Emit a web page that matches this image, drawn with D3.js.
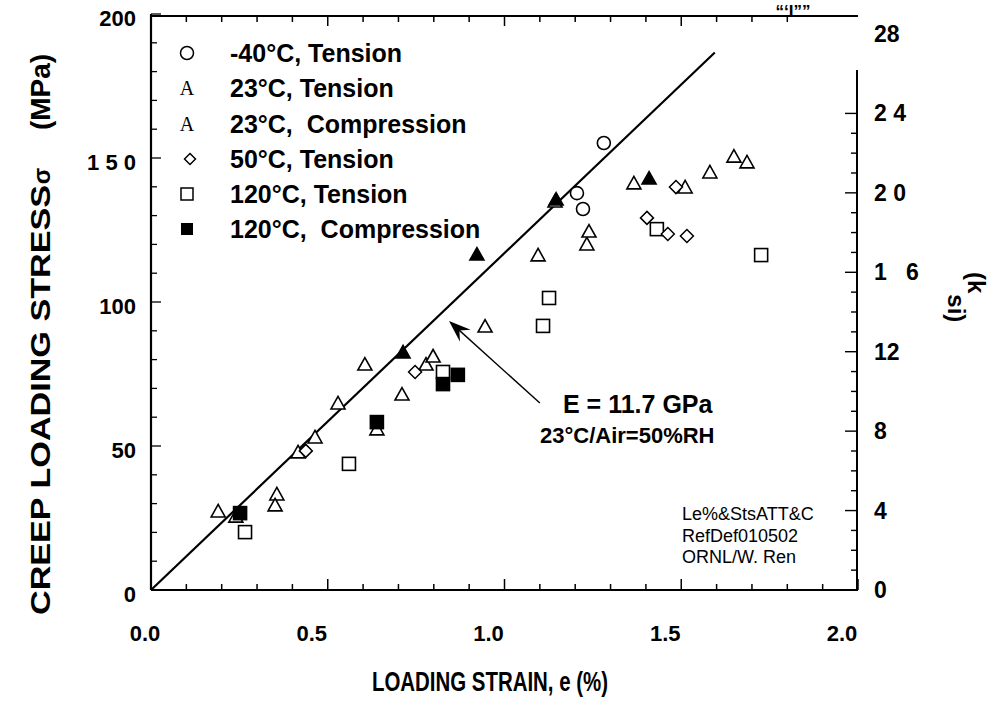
<!DOCTYPE html>
<html>
<head>
<meta charset="utf-8">
<script src="https://cdn.jsdelivr.net/npm/d3@7"></script>
<style>
  body { margin: 0; background: #fff; }
  svg { display: block; }
  text { font-family: "Liberation Sans", Arial, sans-serif; fill: #000; }
</style>
</head>
<body>
<div id="chart"></div>
<script>
// data: strain (%) and stress (MPa)
var m40TensionStrain = [1.281, 1.205, 1.222];
var m40TensionStress = [155.2, 137.8, 132.3];

var t23TensionStrain = [0.190, 0.240, 0.356, 0.351, 0.416, 0.464, 0.529, 0.605, 0.639, 0.710, 0.778, 0.798, 0.945, 1.095, 1.143, 1.233, 1.239, 1.366, 1.511, 1.581, 1.649, 1.686];
var t23TensionStress = [27.1, 25.3, 33.0, 29.2, 47.6, 52.8, 64.6, 78.1, 55.6, 67.7, 78.1, 80.9, 91.3, 116.0, 134.7, 119.8, 124.3, 141.0, 139.6, 144.8, 150.3, 148.3];

var t23CompStrain = [0.713, 0.922, 1.146, 1.409];
var t23CompStress = [82.3, 116.3, 135.4, 142.7];

var t50TensionStrain = [0.438, 0.747, 1.403, 1.462, 1.516, 1.485];
var t50TensionStress = [48.3, 75.7, 129.2, 123.6, 122.9, 139.9];

var t120TensionStrain = [0.266, 0.560, 0.826, 1.109, 1.126, 1.431, 1.726];
var t120TensionStress = [20.1, 43.8, 75.7, 91.7, 101.4, 125.3, 116.3];

var t120CompStrain = [0.252, 0.639, 0.826, 0.868];
var t120CompStress = [26.7, 58.3, 71.5, 74.7];

var legendLabels = ["-40°C, Tension", "23°C, Tension", "23°C,  Compression", "50°C, Tension", "120°C, Tension", "120°C,  Compression"];
var xTickValues = [0, 0.5, 1.0, 1.5, 2.0];
var xTickLabels = ["0.0", "0.5", "1.0", "1.5", "2.0"];
var yTickValues = [0, 50, 100, 150, 200];
var yTickLabels = ["0", "50", "100", "1 5 0", "200"];
var ksiTickValues = [0, 4, 8, 12, 16, 20, 24, 28];
var ksiTickLabels = ["0", "4", "8", "12", "1   6", "2 0", "2 4", "28"];
var noteLines = ["Le%&StsATT&C", "RefDef010502", "ORNL/W. Ren"];

var modulus = 117;      // MPa per % strain (E = 11.7 GPa)
var lineEndStrain = 1.595;
var MPA_PER_KSI = 6.895;

function pairs(xs, ys) {
  var out = [];
  for (var i = 0; i < xs.length; i++) out.push({ e: xs[i], s: ys[i] });
  return out;
}

var width = 994, height = 710;
var svg = d3.select("#chart").append("svg")
  .attr("width", width).attr("height", height);

var x = d3.scaleLinear().domain([0, 2]).range([151, 858]);
var y = d3.scaleLinear().domain([0, 200]).range([590, 14]);
var yk = d3.scaleLinear().domain([0, 200 / MPA_PER_KSI]).range([590, 14]);

// frame: left, bottom, top and (partly) right
svg.append("line").attr("x1", x(0)).attr("x2", x(0)).attr("y1", y(200)).attr("y2", y(0))
  .attr("stroke", "#000").attr("stroke-width", 2.2);
svg.append("line").attr("x1", x(0)).attr("x2", x(2)).attr("y1", y(0)).attr("y2", y(0))
  .attr("stroke", "#000").attr("stroke-width", 2.2);
svg.append("line").attr("x1", x(0)).attr("x2", x(2)).attr("y1", y(200) + 2).attr("y2", y(200) + 2)
  .attr("stroke", "#000").attr("stroke-width", 2);
svg.append("line").attr("x1", x(2) - 1).attr("x2", x(2) - 1).attr("y1", 70).attr("y2", y(0))
  .attr("stroke", "#000").attr("stroke-width", 2);

// bottom ticks (inward)
var xt = d3.range(0, 2.01, 0.1);
svg.append("g").selectAll("line").data(xt).enter().append("line")
  .attr("x1", function(d) { return x(d); }).attr("x2", function(d) { return x(d); })
  .attr("y1", y(0)).attr("y2", function(d, i) { return y(0) - (i % 5 == 0 ? 11 : 6); })
  .attr("stroke", "#000").attr("stroke-width", 1.5);
// top ticks (inward)
svg.append("g").selectAll("line").data(xt.slice(1, 19)).enter().append("line")
  .attr("x1", function(d) { return x(d); }).attr("x2", function(d) { return x(d); })
  .attr("y1", y(200) + 2).attr("y2", function(d, i) { return y(200) + 2 + ((i + 1) % 5 == 0 ? 10 : 6); })
  .attr("stroke", "#000").attr("stroke-width", 1.5);

// left ticks (inward)
var yt = d3.range(0, 201, 10);
svg.append("g").selectAll("line").data(yt).enter().append("line")
  .attr("x1", x(0)).attr("x2", function(d) { return x(0) + (d % 50 == 0 ? 10 : 6); })
  .attr("y1", function(d) { return y(d); }).attr("y2", function(d) { return y(d); })
  .attr("stroke", "#000").attr("stroke-width", 1.3);

// right ticks, ksi (inward)
var kt = d3.range(1, 25, 1);
svg.append("g").selectAll("line").data(kt).enter().append("line")
  .attr("x1", x(2) - 1).attr("x2", function(d) { return x(2) - 1 - (d % 4 == 0 ? 12 : 6); })
  .attr("y1", function(d) { return yk(d); }).attr("y2", function(d) { return yk(d); })
  .attr("stroke", "#000").attr("stroke-width", 1.4);

// tick labels
svg.append("g").selectAll("text").data(xTickValues).enter().append("text")
  .attr("x", function(d) { return x(d) - (d == 0 ? 6 : 16); })
  .attr("y", 641)
  .attr("text-anchor", "middle")
  .style("font-size", "22px").style("font-weight", "bold")
  .text(function(d, i) { return xTickLabels[i]; });

svg.append("g").selectAll("text").data(yTickValues).enter().append("text")
  .attr("x", 136)
  .attr("y", function(d) { return y(d) + 12; })
  .attr("text-anchor", "end")
  .attr("xml:space", "preserve")
  .style("white-space", "pre")
  .style("font-size", "22px").style("font-weight", "bold")
  .text(function(d, i) { return yTickLabels[i]; });

svg.append("g").selectAll("text").data(ksiTickValues).enter().append("text")
  .attr("x", 874)
  .attr("y", function(d) { return yk(d) + 8; })
  .attr("xml:space", "preserve")
  .style("white-space", "pre")
  .style("font-size", "23px").style("font-weight", "bold")
  .text(function(d, i) { return ksiTickLabels[i]; });

// axis titles
svg.append("text")
  .attr("transform", "translate(50," + 400 + ") rotate(-90)")
  .attr("text-anchor", "middle")
  .attr("textLength", 430).attr("lengthAdjust", "spacingAndGlyphs")
  .style("font-size", "27px").style("font-weight", "bold")
  .text("CREEP LOADING STRESS");
svg.append("text")
  .attr("transform", "translate(50,176) rotate(-90)")
  .attr("text-anchor", "middle")
  .style("font-size", "24px").style("font-weight", "bold")
  .text("σ");
svg.append("text")
  .attr("transform", "translate(50,92) rotate(-90)")
  .attr("text-anchor", "middle")
  .attr("textLength", 76).attr("lengthAdjust", "spacingAndGlyphs")
  .style("font-size", "27px").style("font-weight", "bold")
  .text("(MPa)");

svg.append("text")
  .attr("x", 490).attr("y", 691)
  .attr("text-anchor", "middle")
  .attr("textLength", 236).attr("lengthAdjust", "spacingAndGlyphs")
  .style("font-size", "27px").style("font-weight", "bold")
  .text("LOADING STRAIN, e (%)");

var ksiTitle = svg.append("text")
  .attr("transform", "translate(968,272) rotate(90)")
  .style("font-size", "24px").style("font-weight", "bold");
ksiTitle.append("tspan").text("(k");
ksiTitle.append("tspan").attr("dy", 20).attr("dx", 1).text("si)");

// scan artefact at the top edge
svg.append("text").attr("x", 793).attr("y", 17).attr("text-anchor", "middle")
  .style("font-size", "17px").style("font-weight", "bold").text("“‘I””");

// modulus line
svg.append("line")
  .attr("x1", x(0)).attr("y1", y(0))
  .attr("x2", x(lineEndStrain)).attr("y2", y(modulus * lineEndStrain))
  .attr("stroke", "#000").attr("stroke-width", 2.2);

// markers
var triPath = "M0,-7.5L7,5L-7,5Z";
function drawTri(data, fill) {
  svg.append("g").selectAll("path").data(data).enter().append("path")
    .attr("d", triPath)
    .attr("transform", function(d) { return "translate(" + x(d.e) + "," + y(d.s) + ")"; })
    .attr("fill", fill).attr("stroke", "#000").attr("stroke-width", 1.6);
}
function drawSq(data, fill) {
  svg.append("g").selectAll("rect").data(data).enter().append("rect")
    .attr("x", function(d) { return x(d.e) - 6.5; })
    .attr("y", function(d) { return y(d.s) - 6.5; })
    .attr("width", 13).attr("height", 13)
    .attr("fill", fill).attr("stroke", "#000").attr("stroke-width", 1.6);
}

drawTri(pairs(t23TensionStrain, t23TensionStress), "#fff");
drawSq(pairs(t120TensionStrain, t120TensionStress), "#fff");

svg.append("g").selectAll("path").data(pairs(t50TensionStrain, t50TensionStress)).enter().append("path")
  .attr("d", "M0,-6.5L6.5,0L0,6.5L-6.5,0Z")
  .attr("transform", function(d) { return "translate(" + x(d.e) + "," + y(d.s) + ")"; })
  .attr("fill", "#fff").attr("stroke", "#000").attr("stroke-width", 1.5);

svg.append("g").selectAll("circle").data(pairs(m40TensionStrain, m40TensionStress)).enter().append("circle")
  .attr("cx", function(d) { return x(d.e); })
  .attr("cy", function(d) { return y(d.s); })
  .attr("r", 6.5)
  .attr("fill", "#fff").attr("stroke", "#000").attr("stroke-width", 1.6);

drawTri(pairs(t23CompStrain, t23CompStress), "#000");
drawSq(pairs(t120CompStrain, t120CompStress), "#000");

// legend
var legY = [53, 88, 124, 159, 194, 229];
var lg = svg.append("g");
lg.append("circle").attr("cx", 187).attr("cy", legY[0]).attr("r", 6.5)
  .attr("fill", "#fff").attr("stroke", "#000").attr("stroke-width", 1.5);
[1, 2].forEach(function(i) {
  lg.append("text").attr("x", 187).attr("y", legY[i] + 7).attr("text-anchor", "middle")
    .style("font-family", "'Liberation Serif', 'Times New Roman', serif")
    .style("font-size", "20px").text("A");
});
lg.append("path").attr("d", "M0,-5.5L5.5,0L0,5.5L-5.5,0Z")
  .attr("transform", "translate(190," + legY[3] + ")")
  .attr("fill", "#fff").attr("stroke", "#000").attr("stroke-width", 1.5);
lg.append("rect").attr("x", 181).attr("y", legY[4] - 6).attr("width", 12).attr("height", 12)
  .attr("fill", "#fff").attr("stroke", "#000").attr("stroke-width", 1.5);
lg.append("rect").attr("x", 181).attr("y", legY[5] - 6).attr("width", 12).attr("height", 12)
  .attr("fill", "#000");
lg.selectAll("text.lab").data(legendLabels).enter().append("text")
  .attr("class", "lab")
  .attr("x", 230).attr("y", function(d, i) { return legY[i] + 9; })
  .attr("xml:space", "preserve")
  .style("white-space", "pre")
  .style("font-size", "25px").style("font-weight", "bold")
  .text(function(d) { return d; });

// annotation arrow
var tail = { e: 1.100, s: 64.9 }, tip = { e: 0.843, s: 93.4 };
var ax = x(tip.e), ay = y(tip.s), bx = x(tail.e), by = y(tail.s);
var ang = Math.atan2(ay - by, ax - bx);
svg.append("line").attr("x1", bx).attr("y1", by)
  .attr("x2", ax - 8 * Math.cos(ang)).attr("y2", ay - 8 * Math.sin(ang))
  .attr("stroke", "#000").attr("stroke-width", 1.4);
function rot(px, py) {
  return [ax + px * Math.cos(ang) - py * Math.sin(ang), ay + px * Math.sin(ang) + py * Math.cos(ang)];
}
var head = [rot(0, 0), rot(-22, -8), rot(-14, 0), rot(-22, 8)];
svg.append("path").attr("d", "M" + head.map(function(p) { return p.join(","); }).join("L") + "Z")
  .attr("fill", "#000");

svg.append("text").attr("x", 563).attr("y", 413)
  .style("font-size", "25px").style("font-weight", "bold").text("E = 11.7 GPa");
svg.append("text").attr("x", 540).attr("y", 443)
  .style("font-size", "22px").style("font-weight", "bold").text("23°C/Air=50%RH");

// source note
svg.append("g").selectAll("text").data(noteLines).enter().append("text")
  .attr("x", 682).attr("y", function(d, i) { return 520 + i * 21.5; })
  .style("font-size", "18px").text(function(d) { return d; });
</script>
</body>
</html>
